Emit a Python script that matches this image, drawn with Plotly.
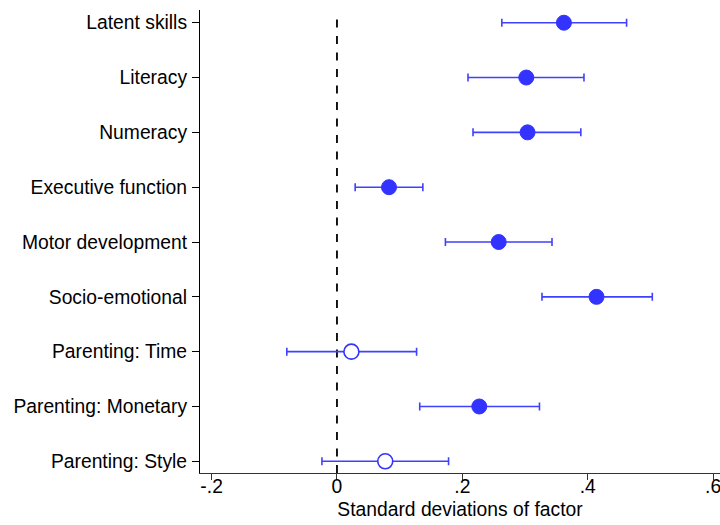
import plotly.graph_objects as go

categories = ["Latent skills", "Literacy", "Numeracy", "Executive function",
              "Motor development", "Socio-emotional", "Parenting: Time",
              "Parenting: Monetary", "Parenting: Style"]
estimates = [0.362, 0.302, 0.304, 0.083, 0.258, 0.414, 0.023, 0.227, 0.077]
ci_low = [0.263, 0.209, 0.217, 0.029, 0.173, 0.327, -0.080, 0.132, -0.024]
ci_high = [0.462, 0.394, 0.389, 0.137, 0.343, 0.503, 0.127, 0.323, 0.178]
significant = [True, True, True, True, True, True, False, True, False]
x_ticks = [-0.2, 0, 0.2, 0.4, 0.6]
x_tick_labels = ["-.2", "0", ".2", ".4", ".6"]

n = len(categories)
ypos = [n - 1 - i for i in range(n)]
blue = "rgb(51,51,255)"
bar_blue = "rgb(64,64,255)"

fig = go.Figure()
fig.add_shape(type="line", x0=0, x1=0, xref="x", y0=0, y1=0.997, yref="paper",
              line=dict(color="black", width=1.8, dash="8px,8.5px"), layer="below")

fig.add_trace(go.Scatter(
    x=estimates, y=ypos, mode="markers",
    marker=dict(symbol="circle", size=15,
                color=[blue if s else "white" for s in significant],
                line=dict(color=blue, width=[1 if s else 1.6 for s in significant])),
    error_x=dict(type="data", symmetric=False,
                 array=[h - e for h, e in zip(ci_high, estimates)],
                 arrayminus=[e - l for e, l in zip(estimates, ci_low)],
                 color=bar_blue, thickness=1.6, width=4),
    showlegend=False, cliponaxis=False,
))

font = "Liberation Sans, Arial, sans-serif"
fs = 19.3
fig.update_layout(
    width=720, height=525,
    margin=dict(l=200, r=0, t=10, b=52),
    paper_bgcolor="white", plot_bgcolor="white",
    font=dict(family=font, size=fs, color="black"),
    xaxis=dict(range=[-0.2185, 0.611], tickvals=x_ticks, ticktext=x_tick_labels,
               showgrid=False, zeroline=False, showline=True, linecolor="#333333",
               linewidth=1.2, ticks="outside", ticklen=6, tickwidth=1.2, tickcolor="#333333",
               tickfont=dict(size=fs), ticklabelstandoff=-10, ticklabeloverflow="allow",
               title=dict(text="Standard deviations of factor", font=dict(size=fs),
                          standoff=6)),
    yaxis=dict(range=[-0.213, 8.232], tickvals=ypos, ticktext=categories,
               showgrid=False, zeroline=False, showline=True, linecolor="black",
               linewidth=1.2, ticks="outside", ticklen=7, tickwidth=1.2, tickcolor="black",
               tickfont=dict(size=fs), ticklabelstandoff=1),
)

fig.write_html("out.html")
